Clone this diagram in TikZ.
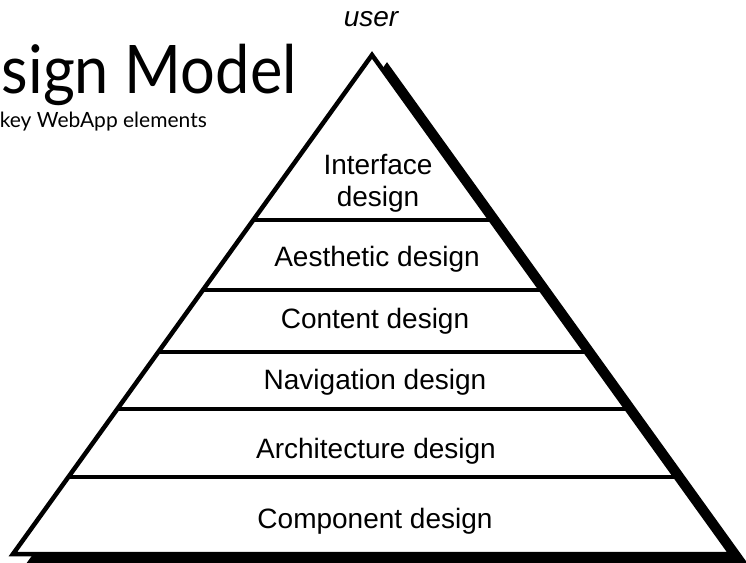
\documentclass[tikz,border=0pt]{standalone}
\usepackage{fontspec}
\setmainfont{Liberation Sans}
\newfontfamily\titlefont[FakeStretch=0.915]{Lato}
\newfontfamily\subtitlefont{Lato}
\begin{document}
\begin{tikzpicture}[x=1pt,y=-1pt, line join=miter,
  layer/.style={font=\fontsize{28}{32}\selectfont, align=center, inner sep=0pt},
  edge/.style={line width=4.5pt, draw=black},
  divider/.style={line width=4pt, draw=black}]
\useasboundingbox (0,0) rectangle (746,562);
\coordinate (apex) at (372,55);
\coordinate (bl) at (13,554);
\coordinate (br) at (731,554);
% shadow
\filldraw[edge, fill=black] ([shift={(15,11)}]apex) -- ([shift={(15,11)}]br) -- ([shift={(15,11)}]bl) -- cycle;
% pyramid
\fill[white] (apex) -- (br) -- (bl) -- cycle;
\begin{scope}
  \clip (apex) -- (br) -- (bl) -- cycle;
  \foreach \y in {220,290,352,409,477} \draw[divider] (0,\y) -- (746,\y);
\end{scope}
\draw[edge] (apex) -- (br) -- (bl) -- cycle;
% labels
\node[layer] (interface) at (378,183) {Interface\\design};
\node[layer, anchor=base] (aesthetic) at (377,266) {Aesthetic design};
\node[layer, anchor=base] (content) at (375,328) {Content design};
\node[layer, anchor=base] (navigation) at (375,389) {Navigation design};
\node[layer, anchor=base] (architecture) at (376,458) {Architecture design};
\node[layer, anchor=base] (component) at (375,528) {Component design};
\node[font=\fontsize{28}{32}\selectfont\itshape, inner sep=0pt, anchor=base] (user) at (371,27) {user};
% title
\node[font=\titlefont\fontsize{67}{70}\selectfont, inner sep=0pt, anchor=base east] (title) at (297,93) {sign Model};
\node[font=\subtitlefont\fontsize{21}{24}\selectfont, inner sep=0pt, anchor=base east] (subtitle) at (207,127) {key WebApp elements};
\end{tikzpicture}
\end{document}
